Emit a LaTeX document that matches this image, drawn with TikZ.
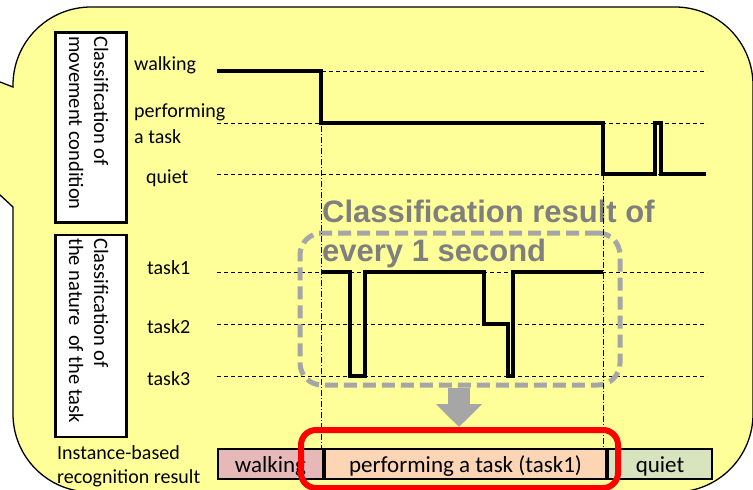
\documentclass[tikz,border=0pt]{standalone}
\usepackage{fontspec}
\setmainfont{Carlito}
\newfontfamily\headfont{Liberation Sans}
\usetikzlibrary{arrows.meta}
\definecolor{calloutyellow}{HTML}{FFFF99}
\definecolor{barpink}{HTML}{E6B9B8}
\definecolor{barpeach}{HTML}{FCD5B5}
\definecolor{bargreen}{HTML}{D7E4BD}
\definecolor{headgray}{HTML}{7F7F7F}
\definecolor{framegray}{HTML}{A6A6A6}
\begin{document}
\begin{tikzpicture}[x=1pt,y=-1pt,
  lbl/.style={inner sep=0pt, anchor=base west, font=\fontsize{20}{25}\selectfont},
  titlebox/.style={draw, fill=white, line width=2.5pt, inner sep=0pt,
    minimum width=71pt, anchor=north west},
  titletext/.style={rotate=-90, inner sep=0pt, anchor=north west, align=left,
    font=\fontsize{20.5}{25}\selectfont},
  levelline/.style={line width=0.8pt, dash pattern=on 4pt off 3pt},
  markline/.style={line width=0.7pt, dash pattern=on 6pt off 2pt on 1pt off 2pt},
  signal/.style={line width=3.5pt, line join=miter},
  barcell/.style={draw, line width=2pt, inner sep=0pt, minimum height=30pt,
    text height=18pt, text depth=1pt, anchor=west, font=\fontsize{23}{28}\selectfont},
  headtext/.style={inner sep=0pt, anchor=base west, text=headgray,
    font=\headfont\bfseries\fontsize{31}{39}\selectfont}]

\useasboundingbox (0,0) rectangle (753,490);
\clip (0,0) rectangle (753,490);

% speech-bubble background with its pointer to the left
\draw[fill=calloutyellow, line width=1.3pt]
  (13,87) -- (-210,1) -- (13,207) -- (13,414)
  arc[start angle=180, end angle=90, radius=78] -- (675,492)
  arc[start angle=90, end angle=0, radius=78] -- (753,85)
  arc[start angle=0, end angle=-90, radius=78] -- (91,7)
  arc[start angle=-90, end angle=-180, radius=78] -- cycle;

% rotated headings of the two charts
\node[titlebox, minimum height=190pt] (movbox) at (54,31) {};
\node[titletext] (movtext) at (108.5,36) {Classification of\\movement condition};
\node[titlebox, minimum height=202pt] (taskbox) at (54,233.5) {};
\node[titletext] (tasktext) at (108.5,238) {Classification of\\the nature\ \ of the task};

% level labels
\node[lbl] (lwalk) at (134,70) {walking};
\node[lbl] (lperf1) at (134,117) {performing};
\node[lbl] (lperf2) at (134,143) {a task};
\node[lbl] (lquiet) at (146,183) {quiet};
\node[lbl] (ltask1) at (147,274) {task1};
\node[lbl] (ltask2) at (147,333) {task2};
\node[lbl] (ltask3) at (147,385) {task3};
\node[lbl] (linst1) at (57,459) {Instance-based};
\node[lbl] (linst2) at (57,483) {recognition result};

% dashed level lines
\foreach \y in {71,123,174,272,324,376}
  \draw[levelline] (217,\y) -- (707,\y);

% per-second classification signals
\draw[signal] (217,71) -- (321,71) -- (321,123) -- (603,123) -- (603,174)
  -- (655,174) -- (655,123) -- (661,123) -- (661,174) -- (706,174);
\draw[signal] (322,272) -- (350,272) -- (350,376) -- (365,376) -- (365,272)
  -- (484,272) -- (484,324) -- (508,324) -- (508,376) -- (513,376)
  -- (513,272) -- (603,272);

% grey frame around the per-second results
\node[draw=framegray, line width=5pt, dash pattern=on 13pt off 6pt,
  rounded corners=22pt, inner sep=0pt, minimum width=320pt, minimum height=152pt]
  (frame) at (460,309) {};
\node[headtext] (head1) at (322,222) {Classification result of};
\node[headtext] (head2) at (322,261) {every 1 second};

% instance-based recognition result bar
\node[barcell, fill=barpink, minimum width=105pt] (rwalk) at (217,464) {walking};
\node[barcell, fill=barpeach, minimum width=281pt] (rperf) at (rwalk.east)
  {performing a task (task1)};
\node[barcell, fill=bargreen, minimum width=104pt] (rquiet) at (rperf.east) {quiet};

% boundaries of the recognised instance
\coordinate (m1) at (321.5,71);
\coordinate (m2) at (603,174);
\draw[markline] (m1) -- (m1 |- rwalk.north);
\draw[markline] (m2) -- (m2 |- rperf.north);

% red highlight of the result
\node[draw=red, line width=6pt, rounded corners=15pt, inner sep=0pt,
  minimum width=317pt, minimum height=58pt] (hilite) at (459.5,459) {};

% grey arrow from the per-second results to the highlighted result
\draw[framegray, line width=22pt, -{Triangle[width=45pt, length=23pt]}]
  (frame.south -| 459,0) -- (hilite.north -| 459,0);
\end{tikzpicture}
\end{document}
